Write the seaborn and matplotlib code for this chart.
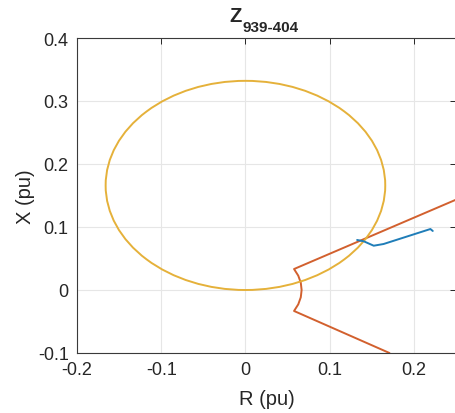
import matplotlib
matplotlib.use("Agg")
import matplotlib.pyplot as plt
from matplotlib.patches import Circle
import seaborn as sns
import pandas as pd

# Característica del relé (línea naranja)
r_rele = [0.171, 0.0577, 0.0627, 0.0657, 0.0667, 0.0657, 0.0627, 0.0577, 0.30]
x_rele = [-0.100, -0.0333, -0.0228, -0.0116, 0.0, 0.0116, 0.0228, 0.0333, 0.172]

# Trayectoria de la impedancia (línea azul)
r_traj = [0.1326, 0.1405, 0.1523, 0.1640, 0.2196, 0.2224]
x_traj = [0.0794, 0.0773, 0.0703, 0.0730, 0.0968, 0.0937]

# Círculo mho (amarillo)
centro_mho = (0.0, 0.166)
radio_mho = 0.166

xticks = [-0.2, -0.1, 0, 0.1, 0.2]
yticks = [-0.1, 0, 0.1, 0.2, 0.3, 0.4]

sns.set_style("white")
plt.rcParams['font.family'] = ['Liberation Sans', 'DejaVu Sans']

fig = plt.figure(figsize=(4.55, 4.14), dpi=100)
ax = fig.add_axes([77 / 455, 60 / 414, 379 / 455, 315 / 414])

df_rele = pd.DataFrame({'R': r_rele, 'X': x_rele})
df_traj = pd.DataFrame({'R': r_traj, 'X': x_traj})

ax.add_patch(Circle(centro_mho, radio_mho, fill=False, color='#E5B13A', lw=1.4, zorder=3))
sns.lineplot(data=df_rele, x='R', y='X', sort=False, estimator=None, color='#D2602E', lw=1.4, ax=ax, zorder=2)
sns.lineplot(data=df_traj, x='R', y='X', sort=False, estimator=None, color='#1F7DB8', lw=1.4, ax=ax, zorder=4)

ax.set_xlim(-0.2, 0.25)
ax.set_ylim(-0.1, 0.4)
ax.set_xticks(xticks)
ax.set_yticks(yticks)
ax.set_xticklabels(['-0.2', '-0.1', '0', '0.1', '0.2'])
ax.set_yticklabels(['-0.1', '0', '0.1', '0.2', '0.3', '0.4'])
ax.grid(True, color='#E6E6E6', lw=0.8)
ax.tick_params(direction='in', length=4, width=0.7, colors='#262626', labelsize=13,
               top=True, right=True)
ax.tick_params(axis='x', pad=6)
ax.tick_params(axis='y', pad=6)
for s in ax.spines.values():
    s.set_color('#3a3a3a')
    s.set_linewidth(0.8)

ax.set_xlabel('R (pu)', fontsize=14.5, color='#262626', labelpad=8)
ax.set_ylabel('X (pu)', fontsize=14.5, color='#262626', labelpad=2)

# Título con subíndice
fig.text(242 / 455, 1 - 21.7 / 414, 'Z', fontsize=14.5, fontweight='bold', ha='right', va='baseline')
fig.text(242.5 / 455, 1 - 31.7 / 414, '939-404', fontsize=11, fontweight='bold', ha='left', va='baseline')

plt.savefig('out.png', dpi=100)
